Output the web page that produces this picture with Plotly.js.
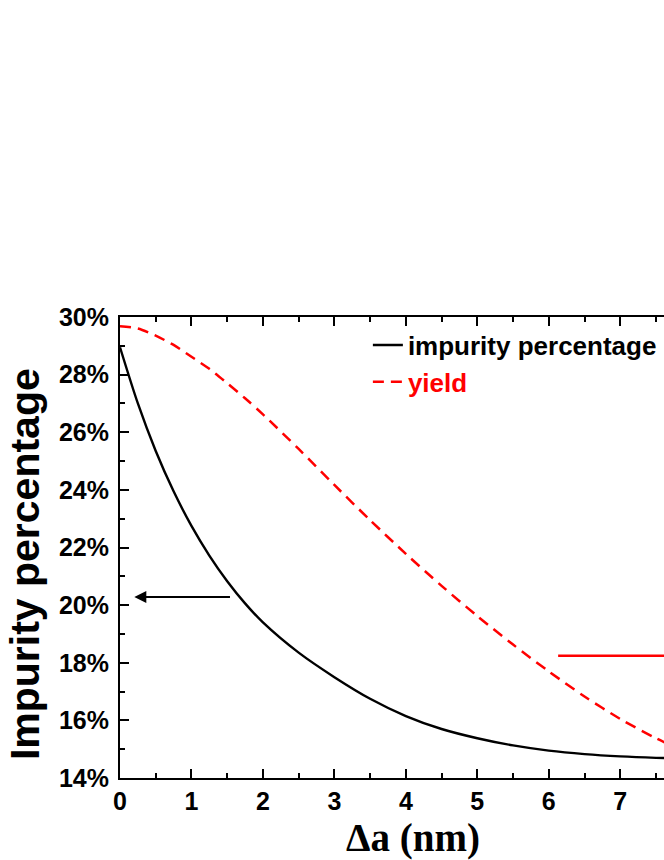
<!DOCTYPE html>
<html>
<head>
<meta charset="utf-8">
<script src="https://cdn.plot.ly/plotly-3.0.1.min.js"></script>
<style>
  html, body { margin: 0; padding: 0; overflow: hidden; background: #fff; }
  #plot { width: 820px; height: 860px; }
</style>
</head>
<body>
<div id="plot"></div>
<script>
// Δa (nm)
const da = [0, 0.25, 0.5, 0.75, 1, 1.25, 1.5, 1.75, 2, 2.5, 3, 3.5, 4, 4.5, 5, 5.5, 6, 6.5, 7, 7.5, 8];
// impurity percentage (%)
const impurity = [28.95, 27.0, 25.35, 23.95, 22.75, 21.72, 20.83, 20.06, 19.4, 18.35, 17.5, 16.75, 16.15, 15.7, 15.38, 15.13, 14.95, 14.83, 14.75, 14.7, 14.67];
// yield, plotted on the right axis
const yieldVals = [29.68, 29.6, 29.35, 29.03, 28.62, 28.2, 27.7, 27.18, 26.62, 25.42, 24.17, 22.95, 21.78, 20.67, 19.62, 18.63, 17.7, 16.83, 16.05, 15.38, 14.8];
const xTicks = [0, 1, 2, 3, 4, 5, 6, 7];

const sans = 'Liberation Sans, Arial, sans-serif';
const tickFont = { family: sans, size: 25, color: '#000', weight: 'bold' };

const traces = [
  {
    x: da, y: impurity, name: 'impurity percentage',
    type: 'scatter', mode: 'lines', line: { color: '#000', width: 2.4, shape: 'spline', smoothing: 0.8 }
  },
  {
    x: da, y: yieldVals, name: '<span style="color:#ff0000">yield</span>', yaxis: 'y2',
    type: 'scatter', mode: 'lines', line: { color: '#ff0000', width: 2.5, dash: '11px,7px', shape: 'spline', smoothing: 0.8 }
  }
];

const axisCommon = {
  showgrid: false, zeroline: false,
  showline: true, linecolor: '#000', linewidth: 2,
  ticks: 'inside', ticklen: 9, tickwidth: 2, tickcolor: '#000',
  tickfont: tickFont
};

const layout = {
  width: 820, height: 860,
  margin: { l: 120, r: 114, t: 317, b: 82 },
  paper_bgcolor: '#fff', plot_bgcolor: '#fff',
  showlegend: true,
  legend: {
    x: 0.423, y: 0.99, xanchor: 'left', yanchor: 'top',
    bgcolor: 'rgba(0,0,0,0)',
    font: { family: sans, size: 26, color: '#000', weight: 'bold' },
    tracegroupgap: 0
  },
  xaxis: Object.assign({}, axisCommon, {
    range: [0, 8.2], tickvals: xTicks, mirror: 'ticks',
    minor: { dtick: 0.5, ticks: 'inside', ticklen: 5, tickwidth: 2, tickcolor: '#000' },
    title: { text: 'Δa (nm)', standoff: 10,
      font: { family: 'Liberation Serif, Times New Roman, serif', size: 39, color: '#000', weight: 'bold' } }
  }),
  yaxis: Object.assign({}, axisCommon, {
    range: [14, 30], dtick: 2, ticksuffix: '%',
    minor: { dtick: 1, ticks: 'inside', ticklen: 5, tickwidth: 2, tickcolor: '#000' },
    ticklabelstandoff: 4
  }),
  yaxis2: Object.assign({}, axisCommon, {
    overlaying: 'y', side: 'right', range: [14, 30], dtick: 2,
    showticklabels: false
  }),
  annotations: [
    { text: 'Impurity percentage', xref: 'paper', yref: 'paper', x: -0.163, y: 0.465,
      xanchor: 'center', yanchor: 'middle', textangle: -90, showarrow: false,
      font: { family: sans, size: 41, color: '#000', weight: 'bold' } },
    { x: 0.2, y: 20.28, xref: 'x', yref: 'y', ax: 1.56, ay: 20.28, axref: 'x', ayref: 'y',
      text: '', showarrow: true, arrowhead: 2, arrowsize: 1.2, arrowwidth: 2, arrowcolor: '#000' },
    { x: 8.0, y: 18.24, xref: 'x', yref: 'y2', ax: 6.11, ay: 18.24, axref: 'x', ayref: 'y2',
      text: '', showarrow: true, arrowhead: 2, arrowsize: 1.2, arrowwidth: 2.5, arrowcolor: '#ff0000' }
  ]
};

Plotly.newPlot('plot', traces, layout, { staticPlot: true });
</script>
</body>
</html>
